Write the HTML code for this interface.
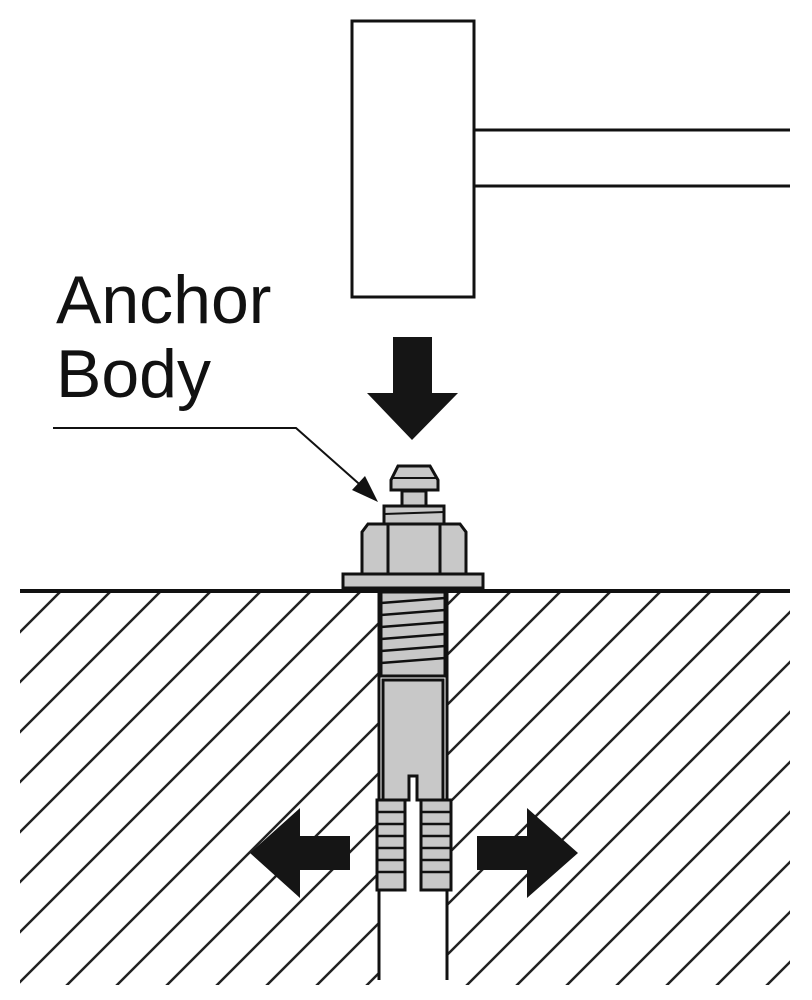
<!DOCTYPE html>
<html><head><style>html,body{margin:0;padding:0;background:#fff;overflow:hidden;width:812px;height:1000px}svg{display:block}</style></head>
<body>
<svg width="812" height="1000" viewBox="0 0 812 1000" xmlns="http://www.w3.org/2000/svg" overflow="hidden">
<defs>
<clipPath id="cl"><path d="M20 592 H790 V985 H20 Z M379 592 V985 H447 V592 Z" clip-rule="evenodd"/></clipPath>
</defs>
<rect x="352" y="21" width="122" height="276" fill="#fff" stroke="#111" stroke-width="3"/>
<line x1="474" y1="130" x2="790" y2="130" stroke="#111" stroke-width="3"/>
<line x1="474" y1="186" x2="790" y2="186" stroke="#111" stroke-width="3"/>
<text x="56" y="323" font-family="Liberation Sans, sans-serif" font-size="68" fill="#111">Anchor</text>
<text x="56" y="397" font-family="Liberation Sans, sans-serif" font-size="68" fill="#111">Body</text>
<polygon points="393,337 432,337 432,393 458,393 412,440 367,393 393,393" fill="#151515"/>
<polyline points="53,428 296,428 366,490" fill="none" stroke="#111" stroke-width="2"/>
<polygon points="378,502 352,490 365,476" fill="#111"/>
<g clip-path="url(#cl)" stroke="#222" stroke-width="2.5">
<path d="M60 592 l-400 400 M110 592 l-400 400 M160 592 l-400 400 M210 592 l-400 400 M260 592 l-400 400 M310 592 l-400 400 M360 592 l-400 400 M410 592 l-400 400 M460 592 l-400 400 M510 592 l-400 400 M560 592 l-400 400 M610 592 l-400 400 M660 592 l-400 400 M710 592 l-400 400 M760 592 l-400 400 M810 592 l-400 400 M860 592 l-400 400 M910 592 l-400 400 M960 592 l-400 400 M1010 592 l-400 400 M1060 592 l-400 400 M1110 592 l-400 400 M1160 592 l-400 400"/>
</g>
<line x1="20" y1="591" x2="790" y2="591" stroke="#111" stroke-width="4"/>
<line x1="379" y1="592" x2="379" y2="980" stroke="#111" stroke-width="3"/>
<line x1="447" y1="592" x2="447" y2="980" stroke="#111" stroke-width="3"/>
<g stroke="#111" stroke-width="3" fill="#c8c8c8">
<rect x="381" y="592" width="64" height="84"/>
<g stroke-width="2.5"><line x1="381" y1="603" x2="445" y2="598"/><line x1="381" y1="615" x2="445" y2="610"/><line x1="381" y1="627" x2="445" y2="622"/><line x1="381" y1="639" x2="445" y2="634"/><line x1="381" y1="651" x2="445" y2="646"/><line x1="381" y1="663" x2="445" y2="658"/></g>
<path d="M383 680 H443 V800 H417 V776 H409 V800 H383 Z"/>
<path d="M377 800 H405 V890 H377 Z"/>
<path d="M421 800 H451 V890 H421 Z"/>
<g stroke-width="2.5"><line x1="377" y1="812" x2="405" y2="812"/><line x1="377" y1="824" x2="405" y2="824"/><line x1="377" y1="836" x2="405" y2="836"/><line x1="377" y1="848" x2="405" y2="848"/><line x1="377" y1="860" x2="405" y2="860"/><line x1="377" y1="872" x2="405" y2="872"/>
<line x1="421" y1="812" x2="451" y2="812"/><line x1="421" y1="824" x2="451" y2="824"/><line x1="421" y1="836" x2="451" y2="836"/><line x1="421" y1="848" x2="451" y2="848"/><line x1="421" y1="860" x2="451" y2="860"/><line x1="421" y1="872" x2="451" y2="872"/></g>
<rect x="343" y="574" width="140" height="14"/>
<path d="M362 532 L368 524 H460 L466 532 V574 H362 Z"/>
<line x1="388" y1="524" x2="388" y2="574"/><line x1="440" y1="524" x2="440" y2="574"/>
<rect x="384" y="506" width="60" height="18"/>
<line x1="384" y1="514" x2="444" y2="512" stroke-width="2"/>
<rect x="402" y="491" width="24" height="15"/>
<path d="M391 480 L398 466 H430 L438 480 V490 H391 Z"/>
<line x1="393" y1="478" x2="436" y2="478" stroke-width="2"/>
</g>
<polygon points="350,836 300,836 300,808 250,853 300,898 300,870 350,870" fill="#151515"/>
<polygon points="477,836 527,836 527,808 578,853 527,898 527,870 477,870" fill="#151515"/>
</svg>
</body></html>
